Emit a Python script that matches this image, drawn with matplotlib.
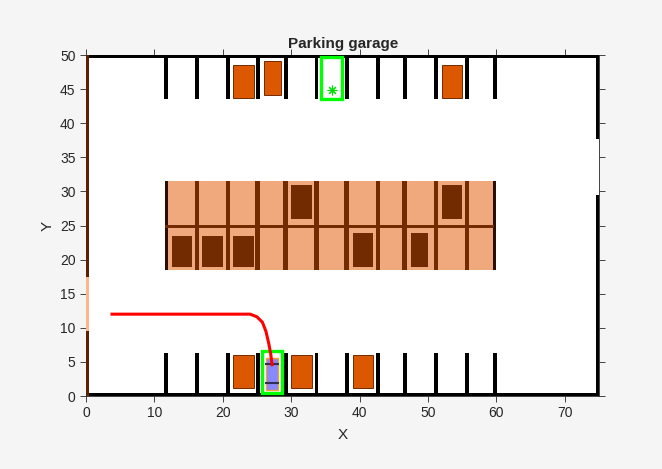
import matplotlib
matplotlib.use('Agg')
import matplotlib.pyplot as plt
from matplotlib.patches import Rectangle

plt.rcParams['font.family'] = ['Liberation Sans', 'DejaVu Sans']

BG = '#f5f5f5'
TXT = '#262626'
ORANGE = '#db5800'
DARK = '#722b00'
LIGHT = '#f0a97d'

# parking lines, same x for top and bottom rows
line_x = [11.7, 16.2, 20.75, 25.1, 29.2, 33.7, 38.1, 42.7, 46.6, 51.2, 55.7, 59.8]

# parked cars (x0, y0, w, h)
cars_top = [(21.5, 43.7, 3.0, 4.9), (26.0, 44.2, 2.5, 4.9), (52.0, 43.7, 3.0, 4.9)]
cars_bottom = [(21.5, 1.1, 3.0, 4.85), (30.0, 1.1, 3.0, 4.85), (39.0, 1.1, 3.0, 4.85)]
cars_inflated = [(12.6, 18.9, 2.9, 4.6), (17.0, 18.9, 3.1, 4.6), (21.5, 18.9, 3.1, 4.6),
                 (39.0, 18.9, 3.0, 5.0), (47.5, 18.9, 2.5, 5.0),
                 (30.0, 25.9, 3.1, 5.0), (52.0, 25.9, 3.0, 5.0)]

# path of the ego vehicle
path_x = [3.8, 8.0, 12.0, 16.0, 20.0, 24.0, 25.0, 25.8, 26.3, 26.7, 27.0, 27.2]
path_y = [12.0, 12.0, 12.0, 12.0, 12.0, 12.0, 11.6, 10.8, 9.5, 7.8, 6.2, 4.6]

start_box = (25.7, 0.45, 3.0, 6.2)
goal_box = (34.4, 43.5, 3.0, 6.2)
goal_pt = (36.0, 44.9)
ego = (26.3, 0.85, 1.8, 4.7)
wheel_y = [1.85, 4.65]
wheel_x = (26.2, 28.2)

fig = plt.figure(figsize=(6.62, 4.69), dpi=100, facecolor=BG)
ax = fig.add_axes([86 / 662, 1 - 396 / 469, 513 / 662, 341 / 469])


def rect(x, y, w, h, fc, ec='none', lw=0, z=2):
    ax.add_patch(Rectangle((x, y), w, h, facecolor=fc, edgecolor=ec, linewidth=lw, zorder=z))


# inflated center block
rect(11.6, 18.5, 48.3, 13.0, LIGHT)
for x in line_x[1:-1]:
    rect(x - 0.33, 18.5, 0.66, 13.0, DARK, z=3)
rect(11.55, 18.5, 0.4, 13.0, '#2a0f00', z=3)
rect(59.5, 18.5, 0.4, 13.0, '#2a0f00', z=3)
rect(11.6, 24.6, 48.0, 0.5, DARK, z=3)
for c in cars_inflated:
    rect(*c, DARK, z=4)

# parking lines
for x in line_x:
    rect(x - 0.28, 43.6, 0.56, 6.4, 'black')
    rect(x - 0.28, 0, 0.56, 6.3, 'black')

# walls
rect(0, 49.5, 75, 0.5, 'black', z=5)
rect(0, 0, 75, 0.5, 'black', z=5)
rect(74.5, 0, 0.5, 29.5, 'black', z=5)
rect(74.5, 37.7, 0.5, 12.3, 'black', z=5)
rect(0, 0, 0.5, 50, '#f8b78f', z=5)
rect(0, 0, 0.38, 9.5, '#5a2200', z=6)
rect(0, 17.5, 0.38, 32.5, '#5a2200', z=6)

for c in cars_top + cars_bottom:
    rect(*c, ORANGE, ec=DARK, lw=0.7, z=4)

# ego vehicle
rect(*ego, '#8888ff', ec='#f0a030', lw=1.0, z=6)
for y in wheel_y:
    ax.plot(wheel_x, [y, y], color='#303050', lw=1.5, zorder=7, solid_capstyle='butt')

for b in [start_box, goal_box]:
    rect(*b, 'none', ec='#00ff00', lw=2.4, z=8)
ax.plot(goal_pt[0], goal_pt[1], marker=(8, 2, 0), color='#00e000', ms=7, mew=0.8, zorder=8)

ax.plot(path_x, path_y, color='red', lw=2.2, zorder=9)

ax.set_xlim(0, 75)
ax.set_ylim(0, 50)
ax.set_xticks(range(0, 71, 10))
ax.set_yticks(range(0, 51, 5))
ax.tick_params(direction='out', top=True, right=True, length=4, width=0.6,
               color=TXT, labelcolor=TXT, labelsize=10, pad=3.5)
for s in ax.spines.values():
    s.set_linewidth(0.6)
    s.set_color(TXT)
ax.set_xlabel('X', fontsize=11, color=TXT, labelpad=5.5)
ax.set_ylabel('Y', fontsize=11, color=TXT, labelpad=3.5)
ax.set_title('Parking garage', fontsize=11, fontweight='bold', color=TXT, pad=5, x=0.502)

fig.savefig('out.png', dpi=100, facecolor=BG)
